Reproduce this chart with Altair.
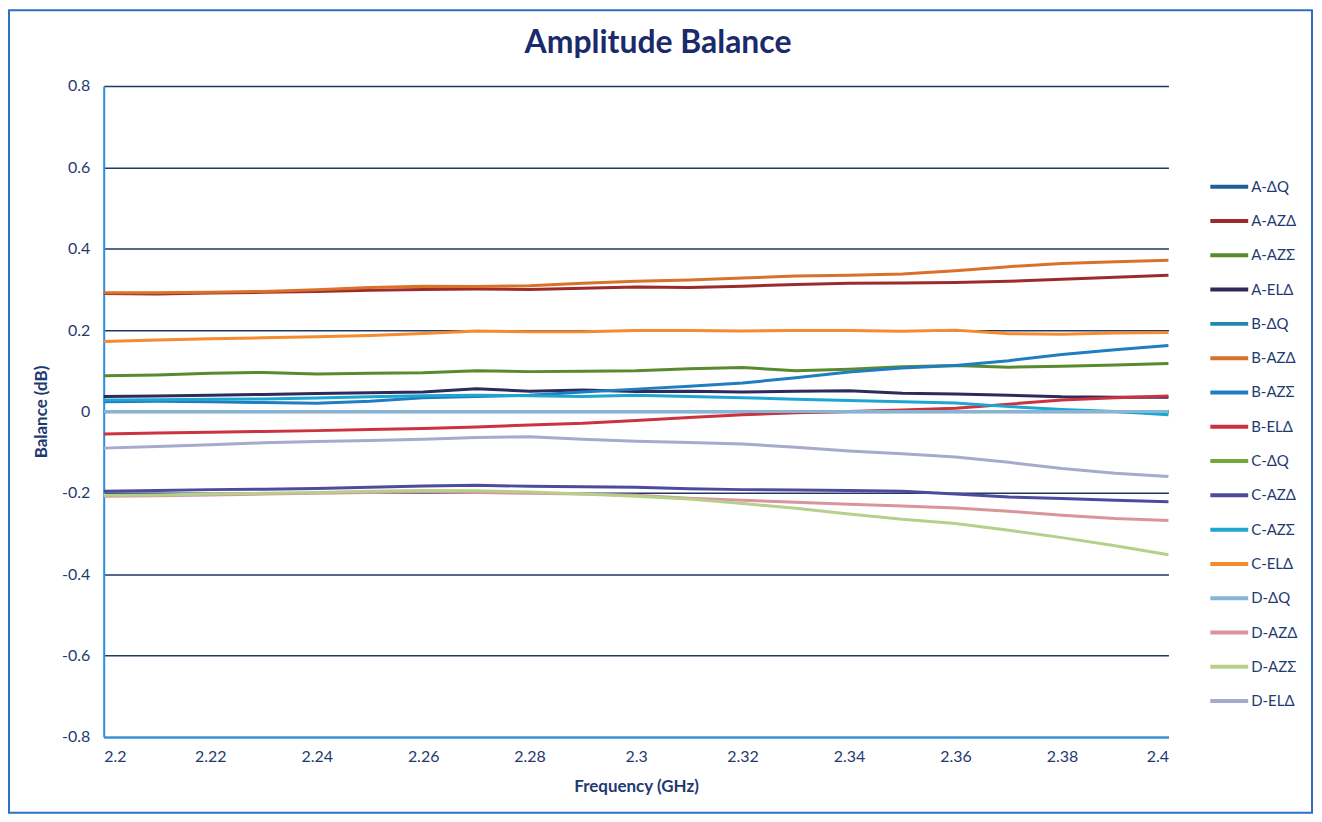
import altair as alt
import pandas as pd

freq = [2.20, 2.21, 2.22, 2.23, 2.24, 2.25, 2.26, 2.27, 2.28, 2.29, 2.30,
        2.31, 2.32, 2.33, 2.34, 2.35, 2.36, 2.37, 2.38, 2.39, 2.40]

names = ["A-ΔQ", "A-AZΔ", "A-AZΣ", "A-ELΔ", "B-ΔQ", "B-AZΔ", "B-AZΣ", "B-ELΔ",
         "C-ΔQ", "C-AZΔ", "C-AZΣ", "C-ELΔ", "D-ΔQ", "D-AZΔ", "D-AZΣ", "D-ELΔ"]

colors = ["#1F5F99", "#9C2B2B", "#5A8A2E", "#2E2A5A", "#1C8AAE", "#D9712B",
          "#1F7EC2", "#CC3340", "#70A83C", "#4E4A9E", "#1EA6D3", "#F58A2E",
          "#86B6D6", "#D9959B", "#B6CF8A", "#A6ABCD"]

a_dq = [0.0] * 21
a_azd = [0.290, 0.289, 0.291, 0.293, 0.295, 0.298, 0.300, 0.301, 0.300, 0.303, 0.306,
         0.305, 0.308, 0.312, 0.315, 0.316, 0.317, 0.320, 0.325, 0.330, 0.335]
a_azs = [0.088, 0.090, 0.094, 0.096, 0.092, 0.094, 0.095, 0.100, 0.098, 0.099, 0.100,
         0.105, 0.108, 0.100, 0.104, 0.110, 0.113, 0.109, 0.111, 0.114, 0.118]
a_eld = [0.037, 0.038, 0.040, 0.042, 0.044, 0.046, 0.048, 0.056, 0.050, 0.053, 0.049,
         0.050, 0.048, 0.050, 0.051, 0.045, 0.043, 0.040, 0.036, 0.035, 0.035]
b_dq = [0.0] * 21
b_azd = [0.292, 0.292, 0.293, 0.295, 0.299, 0.305, 0.308, 0.307, 0.309, 0.315, 0.320,
         0.323, 0.328, 0.333, 0.335, 0.338, 0.346, 0.356, 0.364, 0.368, 0.372]
b_azs = [0.024, 0.025, 0.024, 0.022, 0.020, 0.025, 0.034, 0.037, 0.040, 0.048, 0.055,
         0.062, 0.070, 0.083, 0.097, 0.107, 0.113, 0.125, 0.140, 0.152, 0.162]
b_eld = [-0.055, -0.053, -0.051, -0.049, -0.047, -0.044, -0.042, -0.038, -0.033, -0.029, -0.022,
         -0.015, -0.008, -0.003, 0.000, 0.004, 0.008, 0.018, 0.028, 0.034, 0.038]
c_dq = [0.0] * 21
c_azd = [-0.196, -0.194, -0.192, -0.191, -0.189, -0.186, -0.183, -0.181, -0.184, -0.185, -0.186,
         -0.190, -0.192, -0.193, -0.194, -0.196, -0.203, -0.210, -0.214, -0.218, -0.222]
c_azs = [0.028, 0.029, 0.030, 0.031, 0.033, 0.036, 0.039, 0.040, 0.039, 0.037, 0.040,
         0.037, 0.034, 0.030, 0.027, 0.024, 0.021, 0.012, 0.005, 0.000, -0.008]
c_eld = [0.172, 0.176, 0.179, 0.181, 0.184, 0.187, 0.192, 0.198, 0.196, 0.196, 0.199,
         0.199, 0.198, 0.199, 0.199, 0.197, 0.200, 0.191, 0.190, 0.193, 0.194]
d_dq = [0.0] * 21
d_azd = [-0.208, -0.207, -0.205, -0.203, -0.201, -0.199, -0.198, -0.199, -0.201, -0.203, -0.206,
         -0.213, -0.218, -0.223, -0.228, -0.232, -0.237, -0.245, -0.255, -0.263, -0.268]
d_azs = [-0.206, -0.205, -0.203, -0.201, -0.199, -0.196, -0.194, -0.195, -0.198, -0.203, -0.208,
         -0.215, -0.226, -0.238, -0.252, -0.265, -0.275, -0.292, -0.310, -0.330, -0.352]
d_eld = [-0.090, -0.086, -0.082, -0.077, -0.074, -0.071, -0.068, -0.064, -0.062, -0.068, -0.073,
         -0.076, -0.080, -0.088, -0.097, -0.104, -0.112, -0.125, -0.140, -0.152, -0.160]

series = [a_dq, a_azd, a_azs, a_eld, b_dq, b_azd, b_azs, b_eld,
          c_dq, c_azd, c_azs, c_eld, d_dq, d_azd, d_azs, d_eld]

y_ticks = [-0.8, -0.6, -0.4, -0.2, 0, 0.2, 0.4, 0.6, 0.8]
x_ticks = [2.2, 2.22, 2.24, 2.26, 2.28, 2.3, 2.32, 2.34, 2.36, 2.38, 2.4]

chart_title = "Amplitude Balance"

rows = []
for i, (n, vals) in enumerate(zip(names, series)):
    for f, v in zip(freq, vals):
        rows.append({"series": n, "idx": i, "freq": f, "val": v})
df = pd.DataFrame(rows)

W, H = 1068, 653
TXT = "#1F3A70"
FONT = "Lato"

lines = alt.Chart(df).mark_line(strokeWidth=3, strokeJoin="round").encode(
    x=alt.X("freq:Q", scale=alt.Scale(domain=[2.2, 2.4], nice=False, zero=False),
            axis=alt.Axis(title="Frequency (GHz)", values=x_ticks, labelExpr="toString(datum.value)",
                          grid=False, ticks=False, domainColor="#2A8FE0", domainWidth=2,
                          labelPadding=12, titlePadding=14)),
    y=alt.Y("val:Q", scale=alt.Scale(domain=[-0.8, 0.8], nice=False, zero=False),
            axis=alt.Axis(title="Balance (dB)", values=y_ticks, labelExpr="toString(datum.value)",
                          grid=True, gridColor="#1F3864", gridWidth=1.3, ticks=False,
                          domainColor="#2A8FE0", domainWidth=2, labelPadding=14, titlePadding=11)),
    color=alt.Color("series:N", scale=alt.Scale(domain=names, range=colors),
                    sort=names,
                    legend=alt.Legend(title=None, orient="none", legendX=1108, legendY=80,
                                      symbolType="stroke", symbolSize=1444, symbolStrokeWidth=4,
                                      labelFontSize=15, labelColor=TXT, labelFont=FONT,
                                      labelOffset=1, rowPadding=5.4, padding=0)),
    detail="idx:O",
)

one = alt.Data(values=[{"t": chart_title}])

border = alt.Chart(one).mark_rect(
    fill=None, fillOpacity=0, stroke="#2F6FC5", strokeWidth=2
).encode(
    x=alt.value(-95), x2=alt.value(W + 144), y=alt.value(-76), y2=alt.value(H + 76)
)

title = alt.Chart(one).mark_text(
    font=FONT, fontSize=32, fontWeight="bold", color="#1B2A6B",
    align="center", baseline="alphabetic"
).encode(text="t:N", x=alt.value(W / 2 + 22), y=alt.value(-33))

chart = alt.layer(border, title, lines).properties(
    width=W, height=H,
    autosize=alt.AutoSizeParams(type="none"),
    padding={"left": 96, "top": 77, "right": 146, "bottom": 78},
).configure_view(stroke=None).configure_axis(
    labelFont=FONT, labelFontSize=16, labelColor=TXT,
    titleFont=FONT, titleFontSize=17, titleFontWeight="bold", titleColor=TXT,
)

chart.save("out.html", embed_options={"renderer": "svg", "actions": False})
